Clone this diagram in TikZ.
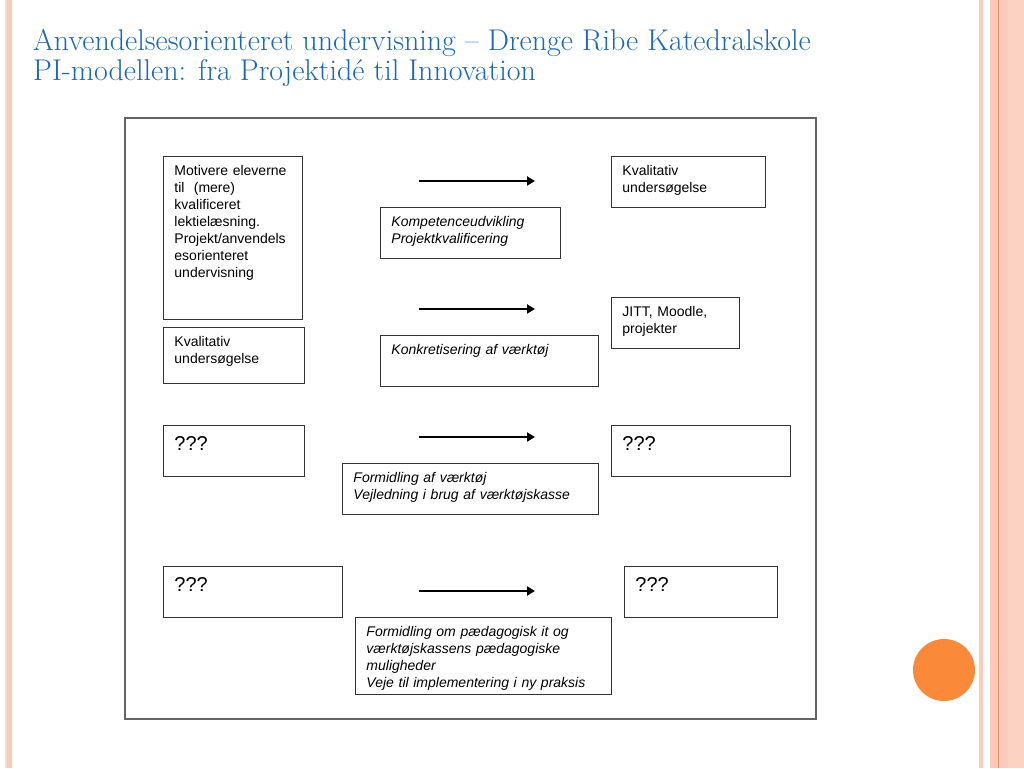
\documentclass[tikz,border=0pt]{standalone}
\usepackage{fontspec}
\newfontfamily\boxfont{Liberation Sans}
\usepackage{xcolor}
\definecolor{titleblue}{RGB}{28,104,180}
\definecolor{stripesalmon}{RGB}{251,202,184}
\definecolor{stripelight}{RGB}{252,210,194}
\definecolor{stripepale}{RGB}{250,222,208}
\definecolor{stripeline}{RGB}{226,146,112}
\definecolor{dotorange}{RGB}{250,137,58}
\definecolor{framegray}{RGB}{100,100,100}
\usetikzlibrary{arrows.meta}

\begin{document}
\begin{tikzpicture}[
  x=1pt, y=-1pt,
  title/.style={anchor=base west, inner sep=0pt, text=titleblue, font=\fontsize{30}{33}\selectfont},
  box/.style={draw=black!80, line width=0.9pt, anchor=north west, inner xsep=11pt, inner ysep=0pt, text height=19pt, align=left, font=\boxfont\fontsize{14}{17}\selectfont},
  note/.style={box, font=\boxfont\itshape\fontsize{14}{17}\selectfont},
  qbox/.style={box, text height=25pt, font=\boxfont\fontsize{20}{24}\selectfont},
  arr/.style={-{Triangle[length=8pt, width=9pt]}, line width=2.8pt},
]
  \useasboundingbox (0,0) rectangle (1024,768);

  % Slide stripes and dot
  \fill[stripepale] (5,0) rectangle (7,768);
  \fill[stripesalmon] (7,0) rectangle (12,768);
  \fill[stripesalmon] (979,0) rectangle (983,768);
  \fill[stripesalmon] (990,0) rectangle (1008,768);
  \fill[stripelight] (1008,0) rectangle (1024,768);
  \draw[stripeline, line width=1pt] (998,0) -- (998,768);
  \fill[dotorange] (944,670) circle (31);

  % Heading
  \node[title] (title1) at (33,51) {Anvendelsesorienteret undervisning -- Drenge Ribe Katedralskole};
  \node[title] (title2) at (33,80) {PI-modellen: fra Projektidé til Innovation};

  % Frame
  \draw[framegray, line width=1.3pt] (125,118) rectangle (816,719);

  % Left column
  \node[box, text width=117pt, text depth=144pt] (motiv) at (163,156) {Motivere eleverne\\til\ \ (mere)\\kvalificeret\\lektielæsning.\\Projekt/anvendels\\esorienteret\\undervisning};
  \node[box, text width=119pt, text depth=37pt] (kvalL) at (163,327) {Kvalitativ\\undersøgelse};
  \node[qbox, text width=119pt, text depth=26pt] (q1) at (163,425) {???};
  \node[qbox, text width=157pt, text depth=26pt] (q3) at (163,566) {???};

  % Middle column
  \node[note, text width=158pt, text depth=32pt] (komp) at (380,207) {Kompetenceudvikling\\Projektkvalificering};
  \node[note, text width=196pt, text depth=32pt] (konk) at (380,335) {Konkretisering af værktøj};
  \node[note, text width=234pt, text depth=32pt] (form) at (342,463) {Formidling af værktøj\\Vejledning i brug af værktøjskasse};
  \node[note, text width=234pt, text depth=58pt] (paed) at (355,617) {Formidling om pædagogisk it og\\værktøjskassens pædagogiske\\muligheder\\Veje til implementering i ny praksis};

  % Right column
  \node[box, text width=132pt, text depth=32pt] (kvalR) at (611,156) {Kvalitativ\\undersøgelse};
  \node[box, text width=106pt, text depth=32pt] (jitt) at (611,297) {JITT, Moodle,\\projekter};
  \node[qbox, text width=157pt, text depth=26pt] (q2) at (611,425) {???};
  \node[qbox, text width=131pt, text depth=26pt] (q4) at (624,566) {???};

  % Arrows
  \coordinate (a1) at (419,181);  \coordinate (b1) at (535,181);
  \coordinate (a2) at (419,309);  \coordinate (b2) at (535,309);
  \coordinate (a3) at (419,437);  \coordinate (b3) at (535,437);
  \coordinate (a4) at (419,591);  \coordinate (b4) at (535,591);
  \draw[arr] (a1) -- (b1);
  \draw[arr] (a2) -- (b2);
  \draw[arr] (a3) -- (b3);
  \draw[arr] (a4) -- (b4);

\end{tikzpicture}
\end{document}
